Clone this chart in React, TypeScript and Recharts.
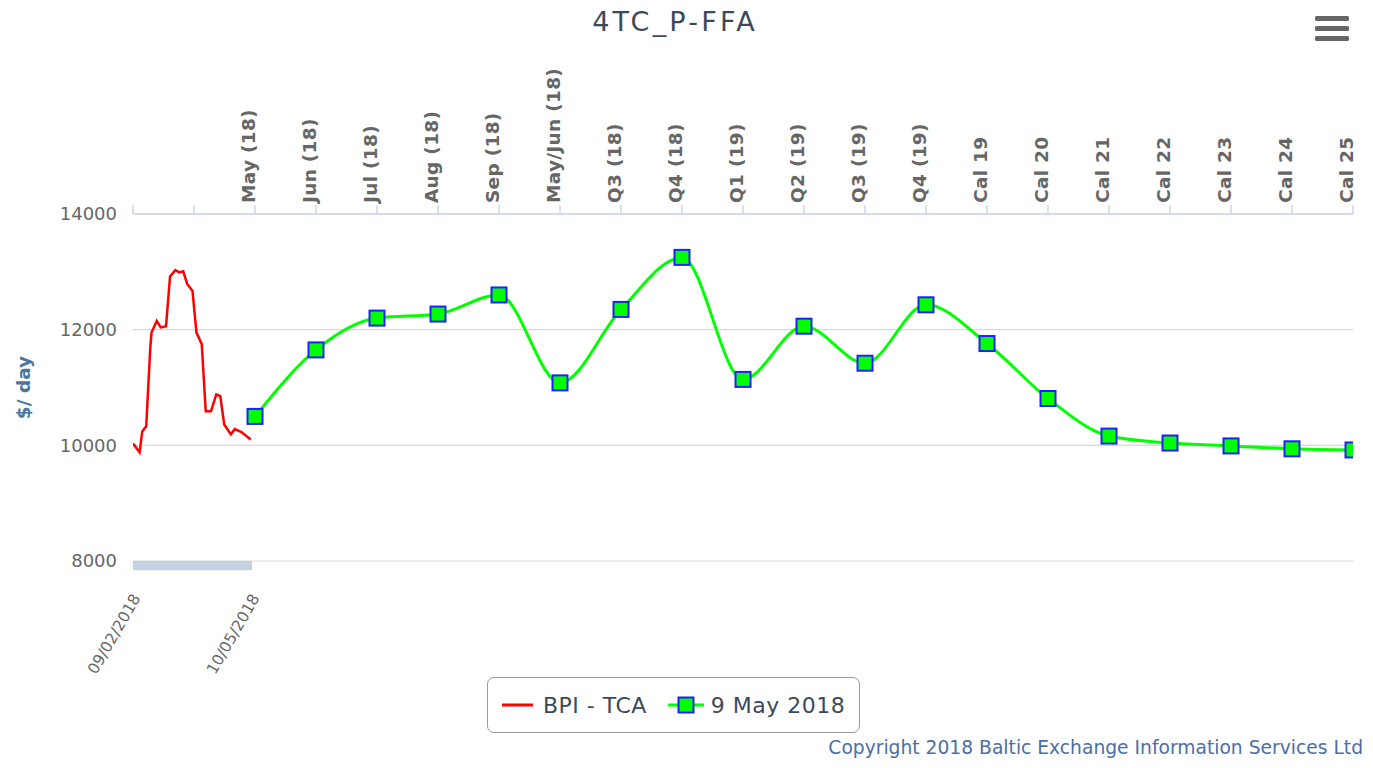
import React from "react";
import {
  LineChart,
  Line,
  XAxis,
  YAxis,
  CartesianGrid,
  ReferenceArea,
} from "recharts";

const FONT = "'DejaVu Sans', Verdana, sans-serif";

const chartTitle = "4TC_P-FFA";
const spotName = "BPI - TCA";
const curveName = "9 May 2018";

// forward curve contracts (top axis)
const categories = [
  "May (18)",
  "Jun (18)",
  "Jul (18)",
  "Aug (18)",
  "Sep (18)",
  "May/Jun (18)",
  "Q3 (18)",
  "Q4 (18)",
  "Q1 (19)",
  "Q2 (19)",
  "Q3 (19)",
  "Q4 (19)",
  "Cal 19",
  "Cal 20",
  "Cal 21",
  "Cal 22",
  "Cal 23",
  "Cal 24",
  "Cal 25",
];
const curveValues = [
  10500, 11650, 12200, 12270, 12600, 11080, 12350, 13250, 11140, 12060, 11420,
  12430, 11760, 10810, 10160, 10040, 9990, 9940, 9920,
];

// spot index history (bottom axis)
const spotDates = [
  "2018-02-09", "2018-02-14", "2018-02-16", "2018-02-19", "2018-02-22",
  "2018-02-23", "2018-02-27", "2018-03-02", "2018-03-06", "2018-03-09",
  "2018-03-13", "2018-03-16", "2018-03-19", "2018-03-22", "2018-03-26",
  "2018-03-29", "2018-04-02", "2018-04-05", "2018-04-09", "2018-04-13",
  "2018-04-16", "2018-04-19", "2018-04-24", "2018-04-27", "2018-05-02",
  "2018-05-09",
];
const spotValues = [
  10030, 9880, 10240, 10330, 11660, 11950, 12150, 12040, 12060, 12920, 13030,
  12990, 13010, 12790, 12670, 11950, 11750, 10590, 10590, 10880, 10850, 10360,
  10190, 10280, 10230, 10100,
];
const dateTickLabels = ["09/02/2018", "10/05/2018"];

const yTicks = [8000, 10000, 12000, 14000];

const toTime = (s: string) => {
  const [y, m, d] = s.split("-").map(Number);
  return Date.UTC(y, m - 1, d);
};
const ddmmToTime = (s: string) => {
  const [d, m, y] = s.split("/").map(Number);
  return Date.UTC(y, m - 1, d);
};

const curveData = categories.map((c, i) => ({ x: i, y: curveValues[i] }));
const spotData = spotDates.map((d, i) => ({ x: toTime(d), y: spotValues[i] }));
const dateTicks = dateTickLabels.map(ddmmToTime);
const t0 = dateTicks[0];
const t1 = dateTicks[1];
// the spot history fills the two leading slots of the category axis
const dateDomain = [t0, t0 + (t1 - t0) * (1220 / 119)];
const catTicks = Array.from({ length: categories.length + 2 }, (_, i) => i - 2);

const TopTick = (props: any) => {
  const { x, y, payload } = props;
  const label = categories[payload.value] ?? "";
  return (
    <text
      x={x}
      y={y}
      transform={`rotate(-90, ${x}, ${y})`}
      textAnchor="start"
      fontFamily={FONT}
      fontWeight="bold"
      fontSize={18.5}
      letterSpacing={0.3}
      fill="#666666"
    >
      {label}
    </text>
  );
};

const DateTick = (props: any) => {
  const { x, y, payload } = props;
  const d = new Date(payload.value);
  const dd = String(d.getUTCDate()).padStart(2, "0");
  const mm = String(d.getUTCMonth() + 1).padStart(2, "0");
  const tx = x + 8;
  const ty = y + 37;
  return (
    <text
      x={tx}
      y={ty}
      transform={`rotate(-60, ${tx}, ${ty})`}
      textAnchor="end"
      fontFamily={FONT}
      fontSize={15.5}
      fill="#666666"
    >
      {`${dd}/${mm}/${d.getUTCFullYear()}`}
    </text>
  );
};

const SquareDot = (props: any) => {
  const { cx, cy, index } = props;
  if (cx == null || cy == null) return null;
  return (
    <rect
      key={`dot-${index}`}
      x={cx - 7.5}
      y={cy - 7.5}
      width={15}
      height={15}
      fill="#00ff00"
      stroke="#1f1fff"
      strokeWidth={2}
    />
  );
};

const YTitle = (props: any) => {
  const { viewBox } = props;
  const cy = viewBox.y + viewBox.height / 2;
  return (
    <text
      x={23}
      y={cy}
      transform={`rotate(-90, 23, ${cy})`}
      textAnchor="middle"
      dominantBaseline="central"
      fontFamily={FONT}
      fontWeight="bold"
      fontSize={18.5}
      fill="#4d759e"
    >
      $/ day
    </text>
  );
};

export default function App() {
  return (
    <div
      style={{
        position: "absolute",
        left: 0,
        top: 0,
        width: 1373,
        height: 768,
        background: "#ffffff",
        fontFamily: FONT,
      }}
    >
      <div
        style={{
          position: "absolute",
          left: 0,
          top: 4,
          width: 1350,
          textAlign: "center",
          fontSize: 27,
          letterSpacing: 3.2,
          color: "#3a4a5c",
          lineHeight: "36px",
        }}
      >
        {chartTitle}
      </div>
      <svg
        width={36}
        height={30}
        style={{ position: "absolute", left: 1314, top: 13 }}
      >
        {[3, 13, 23].map((yy) => (
          <rect key={yy} x={1} y={yy} width={34} height={5} rx={1.5} fill="#666666" />
        ))}
      </svg>

      <LineChart
        width={1373}
        height={768}
        margin={{ top: 0, right: 20, bottom: 147, left: 0 }}
      >
        <CartesianGrid
          xAxisId="ffa"
          yAxisId="v"
          vertical={false}
          stroke="#d8d8d8"
          strokeWidth={1.2}
        />
        <XAxis
          xAxisId="ffa"
          orientation="top"
          type="number"
          dataKey="x"
          domain={[-2, categories.length - 1]}
          ticks={catTicks}
          interval={0}
          allowDataOverflow
          height={214}
          axisLine={{ stroke: "#ccd6eb", strokeWidth: 1.5 }}
          tickLine={{ stroke: "#ccd6eb", strokeWidth: 1.5 }}
          tickSize={9}
          tickMargin={2}
          tick={<TopTick />}
        />
        <XAxis
          xAxisId="date"
          orientation="bottom"
          type="number"
          dataKey="x"
          domain={dateDomain}
          ticks={dateTicks}
          interval={0}
          allowDataOverflow
          height={60}
          axisLine={false}
          tickLine={false}
          tickSize={0}
          tickMargin={0}
          tick={<DateTick />}
        />
        <YAxis
          yAxisId="v"
          type="number"
          domain={[8000, 14000]}
          ticks={yTicks}
          width={133}
          axisLine={false}
          tickLine={false}
          tickSize={0}
          tickMargin={16}
          tick={{ fontFamily: FONT, fontSize: 18, fill: "#666666" }}
          label={{ content: <YTitle /> }}
        />
        <ReferenceArea
          xAxisId="date"
          yAxisId="v"
          x1={t0}
          x2={t1}
          y1={7840}
          y2={8000}
          ifOverflow="visible"
          fill="#c3d2e3"
          fillOpacity={1}
          stroke="none"
        />
        <Line
          xAxisId="date"
          yAxisId="v"
          data={spotData}
          dataKey="y"
          name={spotName}
          type="linear"
          stroke="#ff0000"
          strokeWidth={2.5}
          dot={false}
          isAnimationActive={false}
        />
        <Line
          xAxisId="ffa"
          yAxisId="v"
          data={curveData}
          dataKey="y"
          name={curveName}
          type="monotone"
          stroke="#00ff00"
          strokeWidth={3}
          dot={<SquareDot />}
          activeDot={false}
          isAnimationActive={false}
        />
      </LineChart>

      <div
        style={{
          position: "absolute",
          left: 487,
          top: 677,
          width: 371,
          height: 54,
          border: "1px solid #9a9a9a",
          borderRadius: 7,
          display: "flex",
          alignItems: "center",
          fontSize: 22,
          letterSpacing: 0.5,
          color: "#3a4a5c",
          whiteSpace: "nowrap",
        }}
      >
        <svg width={31} height={6} style={{ marginLeft: 14 }}>
          <line x1={0} y1={3} x2={31} y2={3} stroke="#ff0000" strokeWidth={3} />
        </svg>
        <span style={{ marginLeft: 10 }}>{spotName}</span>
        <svg width={36} height={18} style={{ marginLeft: 21 }}>
          <line x1={0} y1={9} x2={36} y2={9} stroke="#00ff00" strokeWidth={3} />
          <rect x={10.5} y={1.5} width={15} height={15} fill="#00ff00" stroke="#1f1fff" strokeWidth={2} />
        </svg>
        <span style={{ marginLeft: 7 }}>{curveName}</span>
      </div>

      <div
        style={{
          position: "absolute",
          right: 10,
          top: 737,
          fontSize: 18.7,
          color: "#4a6fa5",
          whiteSpace: "nowrap",
        }}
      >
        Copyright 2018 Baltic Exchange Information Services Ltd
      </div>
    </div>
  );
}
